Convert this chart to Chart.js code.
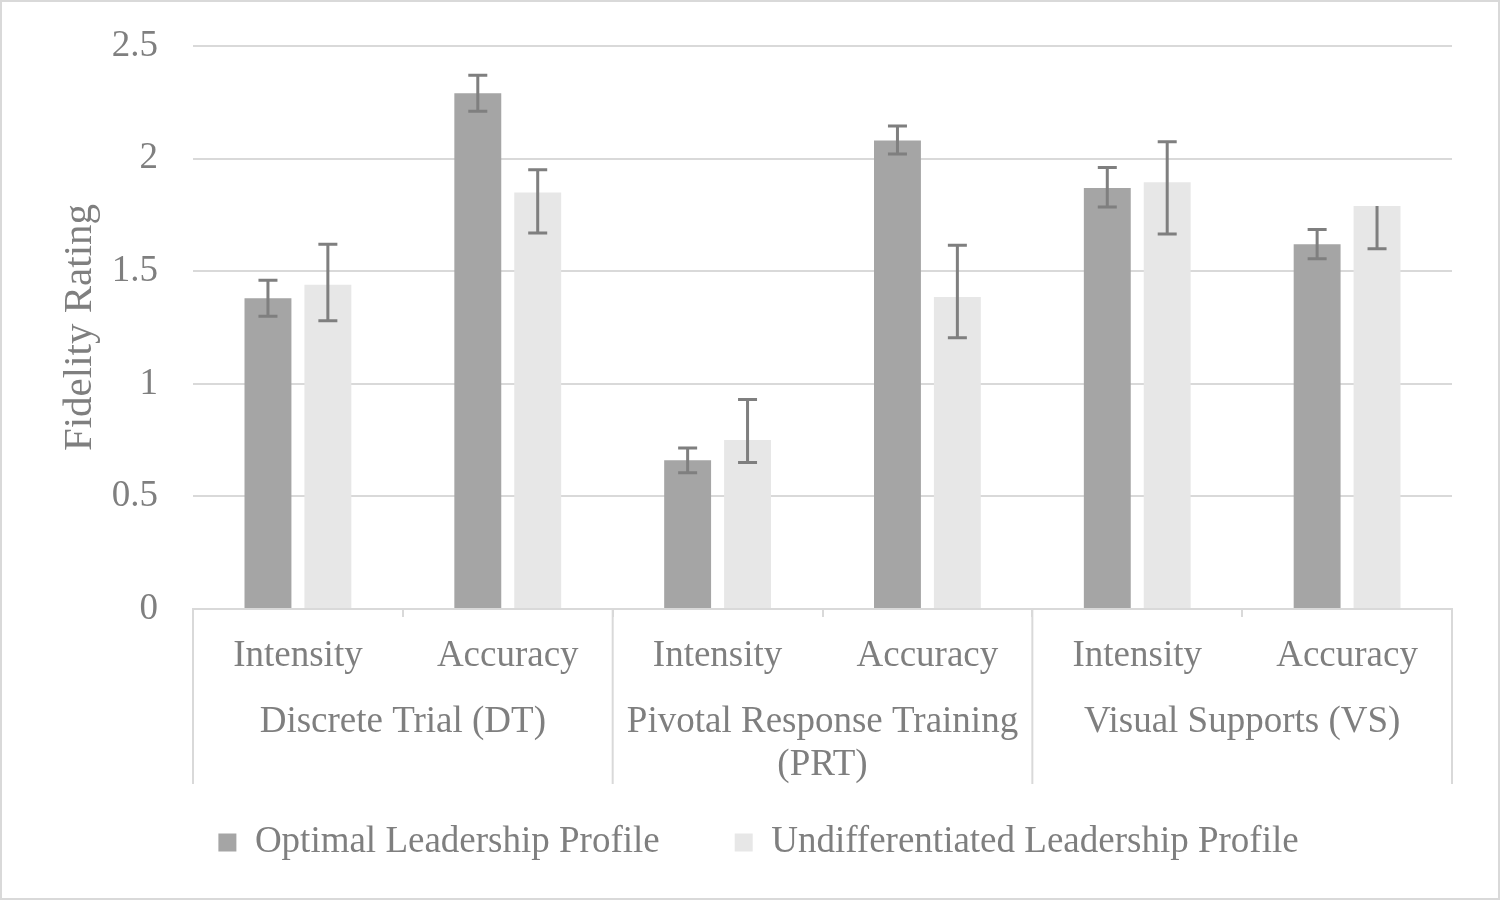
<!DOCTYPE html>
<html>
<head>
<meta charset="utf-8">
<title>Fidelity Rating by Leadership Profile</title>
<script src="https://cdn.jsdelivr.net/npm/chart.js@4.4.1/dist/chart.umd.min.js"></script>
<style>
  html, body { margin: 0; padding: 0; background: #fff; }
  #wrap { width: 1500px; height: 900px; }
</style>
</head>
<body>
<div id="wrap"><canvas id="chart" width="1500" height="900"></canvas></div>
<script>
// values
const categories = ["Intensity", "Accuracy", "Intensity", "Accuracy", "Intensity", "Accuracy"];
const groupLabels = ["Discrete Trial (DT)", ["Pivotal Response Training", "(PRT)"], "Visual Supports (VS)"];
const yTickLabels = ["0", "0.5", "1", "1.5", "2", "2.5"];

const optimal = [1.38, 2.29, 0.66, 2.08, 1.87, 1.62];
const optimalErrUp = [0.08, 0.08, 0.055, 0.065, 0.09, 0.065];
const optimalErrDown = [0.08, 0.08, 0.055, 0.06, 0.085, 0.065];

const undiff = [1.44, 1.85, 0.75, 1.385, 1.895, 1.79];
const undiffErrUp = [0.18, 0.10, 0.18, 0.23, 0.18, 0];
const undiffErrDown = [0.16, 0.18, 0.10, 0.18, 0.23, 0.19];

const GREY_TEXT = "#7f7f7f";
const GRID = "#d9d9d9";
const SERIF = "'Liberation Serif', 'Times New Roman', serif";
const LABEL_SIZE = 37;
const LABEL_LH = 1.16;
const PAD_LEFT = 65;
const LEGEND_GAP = 75;

// white page + thin frame
const frame = {
  id: "frame",
  beforeDraw(chart) {
    const ctx = chart.ctx;
    ctx.save();
    ctx.fillStyle = "#fff";
    ctx.fillRect(0, 0, chart.width, chart.height);
    ctx.strokeStyle = GRID;
    ctx.lineWidth = 2;
    ctx.strokeRect(1, 1, chart.width - 2, chart.height - 2);
    ctx.restore();
  }
};

// legend padding also spaces the items apart; grow the box upward so the row sits higher
const legendLift = {
  id: "legendLift",
  afterLayout(chart) {
    const lg = chart.legend;
    const shift = LEGEND_GAP - 40;
    lg.top -= shift;
    lg.height += shift;
  }
};

// long separators between the method groups, down past the group labels
const groupLines = {
  id: "groupLines",
  afterDraw(chart) {
    const x = chart.scales.x, x2 = chart.scales.x2;
    const w = (x2.right - x2.left) / groupLabels.length;
    const ctx = chart.ctx;
    ctx.save();
    ctx.strokeStyle = GRID;
    ctx.lineWidth = 2;
    for (let k = 0; k <= groupLabels.length; k++) {
      const px = x2.left + k * w;
      ctx.beginPath();
      ctx.moveTo(px, x.top);
      ctx.lineTo(px, x2.bottom);
      ctx.stroke();
    }
    ctx.restore();
  }
};

const errorBars = {
  id: "errorBars",
  afterDatasetsDraw(chart) {
    const ctx = chart.ctx;
    const y = chart.scales.y;
    ctx.save();
    ctx.strokeStyle = "#7f7f7f";
    ctx.lineWidth = 3;
    chart.data.datasets.forEach((ds, i) => {
      chart.getDatasetMeta(i).data.forEach((bar, j) => {
        const v = ds.data[j];
        const hi = y.getPixelForValue(v + ds.errUp[j]);
        const lo = y.getPixelForValue(v - ds.errDown[j]);
        ctx.beginPath();
        ctx.moveTo(bar.x, hi);
        ctx.lineTo(bar.x, lo);
        if (ds.errUp[j] > 0) {
          ctx.moveTo(bar.x - 9.5, hi);
          ctx.lineTo(bar.x + 9.5, hi);
        }
        ctx.moveTo(bar.x - 9.5, lo);
        ctx.lineTo(bar.x + 9.5, lo);
        ctx.stroke();
      });
    });
    ctx.restore();
  }
};

new Chart(document.getElementById("chart"), {
  type: "bar",
  data: {
    labels: categories,
    datasets: [
      {
        label: "Optimal Leadership Profile",
        data: optimal,
        errUp: optimalErrUp,
        errDown: optimalErrDown,
        backgroundColor: "#a5a5a5",
        categoryPercentage: 0.571,
        barPercentage: 0.783
      },
      {
        label: "Undifferentiated Leadership Profile",
        data: undiff,
        errUp: undiffErrUp,
        errDown: undiffErrDown,
        backgroundColor: "#e7e7e7",
        categoryPercentage: 0.571,
        barPercentage: 0.783
      }
    ]
  },
  options: {
    responsive: false,
    animation: false,
    layout: { padding: { top: 46, left: PAD_LEFT, right: 48, bottom: 32 } },
    scales: {
      y: {
        min: 0,
        max: 2.5,
        ticks: {
          stepSize: 0.5,
          padding: 35,
          color: GREY_TEXT,
          // small lineHeight keeps the label padding from pushing the plot down
          font: { family: SERIF, size: LABEL_SIZE, lineHeight: 0.5 },
          callback: (v, i) => yTickLabels[i]
        },
        grid: { color: GRID, lineWidth: 2, drawTicks: false },
        border: { display: false },
        title: {
          display: true,
          text: "Fidelity Rating",
          color: GREY_TEXT,
          font: { family: SERIF, size: 41 },
          padding: { top: 80 - 24.6 - PAD_LEFT, bottom: 0 }
        },
        afterFit: (scale) => { scale.width = 193 - PAD_LEFT; }
      },
      x: {
        offset: true,
        grid: { offset: true, drawOnChartArea: false, color: GRID, lineWidth: 2, tickLength: 8 },
        border: { color: GRID, width: 2 },
        ticks: {
          padding: 18,
          color: GREY_TEXT,
          autoSkip: false,
          maxRotation: 0,
          font: { family: SERIF, size: LABEL_SIZE, lineHeight: LABEL_LH }
        },
        afterFit: (scale) => { scale.height = 67; }
      },
      x2: {
        type: "category",
        labels: groupLabels,
        position: "bottom",
        offset: true,
        grid: { display: false },
        border: { display: false },
        ticks: {
          padding: 17,
          color: GREY_TEXT,
          autoSkip: false,
          maxRotation: 0,
          font: { family: SERIF, size: LABEL_SIZE, lineHeight: LABEL_LH }
        },
        afterFit: (scale) => { scale.height = 108; }
      }
    },
    plugins: {
      tooltip: { enabled: false },
      legend: {
        position: "bottom",
        maxHeight: 84,
        labels: {
          boxWidth: 18,
          boxHeight: 18,
          padding: LEGEND_GAP,
          color: GREY_TEXT,
          font: { family: SERIF, size: LABEL_SIZE }
        }
      }
    }
  },
  plugins: [frame, legendLift, groupLines, errorBars]
});
</script>
</body>
</html>
